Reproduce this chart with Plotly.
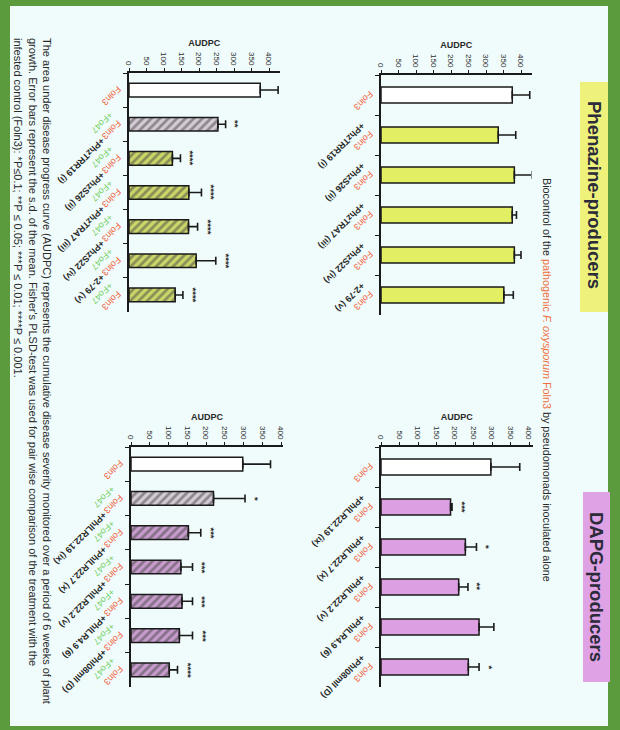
import plotly.graph_objects as go

# ---- data -------------------------------------------------------------
phz_strains = ["PhzTRR19 (i)", "PhzS26 (ii)", "PhzTRA7 (iii)", "PhzS22 (iv)", "2-79 (v)"]
dapg_strains = ["PhlLR22.19 (ix)", "PhlLR22.7 (x)", "PhlLR22.2 (v)", "PhlLR4.9 (6)", "Phl08mII (D)"]

# pseudomonads inoculated alone with Foln3
phz_alone_mean = [375, 335, 381, 375, 381, 351]
phz_alone_sd = [50, 50, 50, 12, 19, 27]
phz_alone_sig = ["", "", "", "", "", ""]

dapg_alone_mean = [297, 188, 228, 210, 265, 236]
dapg_alone_sd = [78, 4, 30, 25, 40, 29]
dapg_alone_sig = ["", "***", "*", "**", "", "*"]

# pseudomonads combined with Fo47
phz_fo47_mean = [375, 254, 124, 171, 170, 192, 132]
phz_fo47_sd = [51, 22, 23, 36, 26, 56, 22]
phz_fo47_sig = ["", "**", "****", "****", "****", "****", "****"]

dapg_fo47_mean = [298, 220, 153, 133, 136, 129, 102]
dapg_fo47_sd = [74, 84, 33, 31, 28, 35, 22]
dapg_fo47_sig = ["", "*", "***", "***", "***", "***", "****"]

value_ticks = [0, 50, 100, 150, 200, 250, 300, 350, 400]

# ---- styling ----------------------------------------------------------
RED = "#f0603c"
GREEN = "#74cf62"
DARK = "#2a2a2a"
FONT = "Liberation Sans"


def cat_label(strain=None, fo47=False):
    red = f"<span style='color:{RED}'>Foln3</span>"
    if strain is None and not fo47:
        return red
    parts = [red]
    if fo47:
        parts.append(f"<span style='color:{GREEN}'>+Fo47</span>")
    if strain is not None:
        parts.append(f"<span style='color:{DARK}'><b>+{strain}</b></span>")
    return "<br>".join(parts)


p1_labels = [cat_label()] + [cat_label(s) for s in phz_strains]
p2_labels = [cat_label()] + [cat_label(s) for s in dapg_strains]
p3_labels = [cat_label(), cat_label(fo47=True)] + [cat_label(s, True) for s in phz_strains]
p4_labels = [cat_label(), cat_label(fo47=True)] + [cat_label(s, True) for s in dapg_strains]

fig = go.Figure()


def add_panel(idx, labels, mean, sd, sig, fills, patterns):
    xa = "x" if idx == 1 else f"x{idx}"
    ya = "y" if idx == 1 else f"y{idx}"
    fig.add_trace(go.Bar(
        x=mean, y=labels, orientation="h",
        xaxis=xa, yaxis=ya,
        marker=dict(color=fills, line=dict(color="#1a1a1a", width=1.5),
                    pattern=patterns),
        error_x=dict(type="data", array=sd, arrayminus=[0] * len(sd), symmetric=False,
                     color="#1a1a1a", thickness=1.6, width=4),
        showlegend=False, hoverinfo="skip",
    ))
    for lab, m, s, t in zip(labels, mean, sd, sig):
        if t:
            fig.add_annotation(x=m + s, y=lab, xref=xa, yref=ya, text=f"<b>{t}</b>",
                               textangle=90, showarrow=False, xanchor="left",
                               yanchor="middle", xshift=3,
                               font=dict(family=FONT, size=9.5, color=DARK))


add_panel(1, p1_labels, phz_alone_mean, phz_alone_sd, phz_alone_sig,
          ["#ffffff"] + ["#e3ef63"] * 5, dict(shape=[""] * 6))
add_panel(2, p2_labels, dapg_alone_mean, dapg_alone_sd, dapg_alone_sig,
          ["#ffffff"] + ["#dc9fe2"] * 5, dict(shape=[""] * 6))
add_panel(3, p3_labels, phz_fo47_mean, phz_fo47_sd, phz_fo47_sig,
          ["#ffffff", "#d4cad4"] + ["#cbd669"] * 5,
          dict(shape=[""] + ["/"] * 6, fgcolor=["#ffffff", "#574c57"] + ["#4a5228"] * 5,
               size=6, solidity=0.45, fillmode="overlay"))
add_panel(4, p4_labels, dapg_fo47_mean, dapg_fo47_sd, dapg_fo47_sig,
          ["#ffffff", "#d4cad4"] + ["#c79ccc"] * 5,
          dict(shape=[""] + ["/"] * 6, fgcolor=["#ffffff", "#574c57"] + ["#5a3c5d"] * 5,
               size=6, solidity=0.45, fillmode="overlay"))

W, H = 620, 730


def px_x(p):
    return p / W


def px_y(p):
    return 1 - p / H


def value_axis(x0, x1, vmax, anchor):
    return dict(domain=[px_x(x0), px_x(x1)], range=[0, vmax], side="top",
                anchor=anchor, tickvals=value_ticks, tickangle=90,
                ticks="outside", ticklen=3, tickwidth=1.2, tickcolor="#1a1a1a",
                showline=True, linecolor="#1a1a1a", linewidth=1.5,
                showgrid=False, zeroline=False, automargin=False,
                tickfont=dict(family=FONT, size=8, color=DARK),
                title=dict(text="<b>AUDPC</b>", standoff=4,
                           font=dict(family=FONT, size=9, color=DARK)))


def cat_axis(y0, y1, anchor):
    return dict(domain=[px_y(y1), px_y(y0)], autorange="reversed", anchor=anchor,
                showline=True, linecolor="#1a1a1a", linewidth=1.5,
                ticks="outside", tickson="boundaries", ticklen=4, tickwidth=1.2,
                tickcolor="#1a1a1a", showgrid=False, zeroline=False, automargin=False,
                tickangle=135, ticklabelposition="inside", ticklabelstandoff=-14,
                ticklabeloverflow="allow",
                tickfont=dict(family=FONT, size=9, color=DARK))


fig.update_layout(
    width=W, height=H,
    margin=dict(l=0, r=0, t=0, b=0, pad=0, autoexpand=False),
    paper_bgcolor="#5b9a3d", plot_bgcolor="rgba(0,0,0,0)",
    bargap=0.6,
    xaxis=value_axis(381, 531.5, 430, "y"),
    yaxis=cat_axis(75, 315, "x"),
    xaxis2=value_axis(381, 532.7, 410, "y2"),
    yaxis2=cat_axis(447, 687, "x2"),
    xaxis3=value_axis(129, 279.5, 430, "y3"),
    yaxis3=cat_axis(73, 312, "x3"),
    xaxis4=value_axis(131, 282.9, 405, "y4"),
    yaxis4=cat_axis(447, 687, "x4"),
)

# light poster panel and the two coloured title boxes
fig.add_shape(type="rect", xref="paper", yref="paper", layer="below",
              x0=px_x(10), x1=px_x(608), y0=px_y(726), y1=px_y(6),
              fillcolor="#effcfb", line=dict(width=0))
fig.add_shape(type="rect", xref="paper", yref="paper", layer="below",
              x0=px_x(580), x1=px_x(608), y0=px_y(312), y1=px_y(82),
              fillcolor="#eef27a", line=dict(width=0))
fig.add_shape(type="rect", xref="paper", yref="paper", layer="below",
              x0=px_x(583), x1=px_x(610), y0=px_y(682), y1=px_y(492),
              fillcolor="#dfa2e4", line=dict(width=0))


def note(x, y, text, size, color=DARK, **kw):
    fig.add_annotation(x=px_x(x), y=px_y(y), xref="paper", yref="paper",
                       text=text, textangle=90, showarrow=False,
                       xanchor=kw.pop("xanchor", "center"),
                       yanchor=kw.pop("yanchor", "middle"),
                       font=dict(family=FONT, size=size, color=color), **kw)


note(594, 195, "<b>Phenazine-producers</b>", 18.5, "#2b2b3a")
note(597, 587, "<b>DAPG-producers</b>", 18.5, "#2b2b3a")
note(547, 380, ("Biocontrol of the <span style='color:#f0703f'>pathogenic <i>F. oxysporum</i> Foln3</span>"
                " by pseudomonads inoculated alone"), 10.8)

caption = ("The area under disease progress curve (AUDPC) represents the cumulative disease severity monitored over a period of 6 weeks of plant<br>"
           "growth. Error bars represent the s.d. of the mean. Fisher's PLSD-test was used for pair wise comparison of the treatment with the<br>"
           "infested control (Foln3): *P≤0.1; **P ≤ 0.05; ***P ≤ 0.01; ****P ≤ 0.001.")
note(33, 36, caption, 11, align="left", yanchor="top")

fig.write_html("out.html")
